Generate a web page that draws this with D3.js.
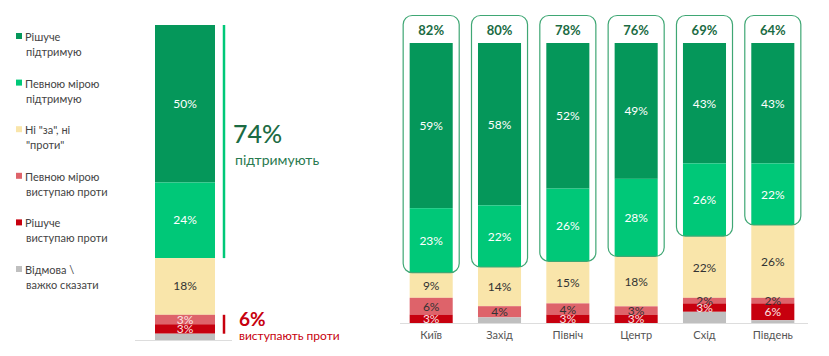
<!DOCTYPE html>
<html><head><meta charset="utf-8">
<script src="https://cdn.jsdelivr.net/npm/d3@7"></script>
<style>body{margin:0;background:#fff;}svg{display:block;font-family:Lato,"Open Sans",sans-serif;}</style>
</head><body><svg id="c" width="829" height="356"></svg>
<script>
const seriesNames = ["Рішуче підтримую","Певною мірою підтримую","Ні \"за\", ні \"проти\"","Певною мірою виступаю проти","Рішуче виступаю проти","Відмова \\ важко сказати"];
const legendLines = [["Рішуче","підтримую"],["Певною мірою","підтримую"],["Ні \"за\", ні","\"проти\""],["Певною мірою","виступаю проти"],["Рішуче","виступаю проти"],["Відмова \\","важко сказати"]];
const colors = ["#05975A","#00C878","#F9E5AA","#DE636A","#C7000E","#BFBFBF"];
const totalValues = [50,24,18,3,3,2];
const totalSupport = "74%", totalOppose = "6%";
const regions = ["Київ","Захід","Північ","Центр","Схід","Південь"];
const strongSupport = [59,58,52,49,43,43];
const partSupport = [23,22,26,28,26,22];
const neutral = [9,14,15,18,22,26];
const partAgainst = [6,4,4,3,2,2];
const strongAgainst = [3,0,3,3,3,6];
const refusal = [0,2,0,0,4,1];
const supportTotals = ["82%","80%","78%","76%","69%","64%"];

const svg = d3.select("#c");
const keys = [0,1,2,3,4,5];

// Legend
const lg = svg.append("g");
legendLines.forEach((lines,i)=>{
  const y0 = 41 + i*46.6;
  lg.append("rect").attr("x",16).attr("y",y0-8).attr("width",6).attr("height",6).attr("fill",colors[i]);
  lines.forEach((t,j)=>lg.append("text").attr("x",j===0?25:26).attr("y",y0+j*15).attr("font-size",11).attr("fill","#444").text(t));
});

// Left total bar (stacked top-down)
const yL = d3.scaleLinear().domain([0,100]).range([25,340]);
const xL = d3.scaleBand().domain(["all"]).range([155,215]).padding(0);
let acc = 0;
const totSum = d3.sum(totalValues);
const gL = svg.append("g");
totalValues.forEach((v,i)=>{
  const a = acc/totSum*100, b = (acc+v)/totSum*100; acc += v;
  gL.append("rect").attr("x",xL("all")).attr("width",xL.bandwidth()).attr("y",yL(a)).attr("height",yL(b)-yL(a)).attr("fill",colors[i]);
  if (i<5 && v>0) gL.append("text").attr("x",xL("all")+xL.bandwidth()/2).attr("y",(yL(a)+yL(b))/2+4).attr("text-anchor","middle").attr("font-size",12)
    .attr("fill", i===2 ? "#333" : (i>=3 ? "#fbe3e3" : "#fff")).text(v+"%");
});
gL.append("line").attr("x1",135).attr("x2",232).attr("y1",340.5).attr("y2",340.5).attr("stroke","#ddd");
// brackets
const sup = (totalValues[0]+totalValues[1])/totSum*100;
gL.append("line").attr("x1",224).attr("x2",224).attr("y1",yL(0)).attr("y2",yL(sup)).attr("stroke","#00C878").attr("stroke-width",2.5);
const opp0 = (totalValues[0]+totalValues[1]+totalValues[2])/totSum*100;
const opp1 = (totalValues[0]+totalValues[1]+totalValues[2]+totalValues[3]+totalValues[4])/totSum*100;
gL.append("line").attr("x1",224).attr("x2",224).attr("y1",yL(opp0)).attr("y2",yL(opp1)).attr("stroke","#C7000E").attr("stroke-width",2.5);
gL.append("text").attr("x",233).attr("y",143).attr("font-size",25).attr("font-weight",500).attr("fill","#1B6B43").text(totalSupport);
gL.append("text").attr("x",235).attr("y",165).attr("font-size",14).attr("fill","#2A7A50").text("підтримують");
gL.append("text").attr("x",239).attr("y",326).attr("font-size",19).attr("font-weight",700).attr("fill","#C7000E").text(totalOppose);
gL.append("text").attr("x",239).attr("y",340).attr("font-size",12).attr("fill","#C7000E").text("виступають проти");

// Regional bars
const data = regions.map((r,i)=>({region:r, 0:strongSupport[i],1:partSupport[i],2:neutral[i],3:partAgainst[i],4:strongAgainst[i],5:refusal[i]}));
const stack = d3.stack().keys(keys).offset(d3.stackOffsetExpand);
const series = stack(data);
const x = d3.scaleBand().domain(regions).range([396,808]).paddingInner(0.37).paddingOuter(0.2);
const y = d3.scaleLinear().domain([0,1]).range([43,323]);
const gR = svg.append("g");
series.forEach((s,si)=>{
  s.forEach((d,di)=>{
    const v = data[di][si];
    if (v<=0) return;
    gR.append("rect").attr("x",x(regions[di])).attr("width",x.bandwidth()).attr("y",y(d[0])).attr("height",y(d[1])-y(d[0])).attr("fill",colors[si]);
  });
});
series.forEach((s,si)=>{
  if (si===5) return;
  s.forEach((d,di)=>{
    const v = data[di][si];
    if (v<=0) return;
    gR.append("text").attr("x",x(regions[di])+x.bandwidth()/2).attr("y",(y(d[0])+y(d[1]))/2+4.5).attr("text-anchor","middle").attr("font-size",12)
      .attr("fill", si<=1 ? "#fff" : si===4 ? "#fbe3e3" : "#333").text(v+"%");
  });
});
// rounded boxes
regions.forEach((r,i)=>{
  const bot = y(series[1][i][1]);
  gR.append("rect").attr("x",x(r)-6.5).attr("y",15.5).attr("width",x.bandwidth()+13).attr("height",bot-15.5).attr("rx",9)
    .attr("fill","none").attr("stroke","#3FA774").attr("stroke-width",1.2);
  gR.append("text").attr("x",x(r)+x.bandwidth()/2).attr("y",35).attr("text-anchor","middle").attr("font-size",13).attr("font-weight",700).attr("fill","#1B6B43").text(supportTotals[i]);
});
const xAxis = d3.axisBottom(x).tickSize(0).tickPadding(8);
const ax = gR.append("g").attr("transform","translate(0,323.5)").call(xAxis);
ax.select(".domain").attr("stroke","#ddd").attr("d","M400,0H808");
ax.selectAll("text").attr("font-size",11).attr("fill","#555").attr("font-family","Lato,'Open Sans',sans-serif");
</script></body></html>
